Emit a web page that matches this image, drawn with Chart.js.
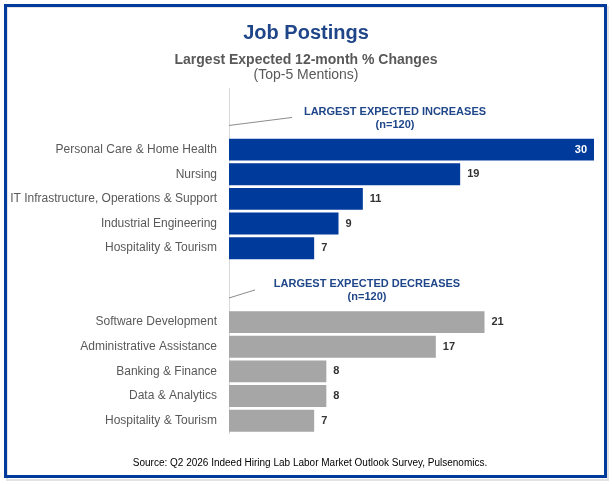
<!DOCTYPE html>
<html>
<head>
<meta charset="utf-8">
<script src="https://cdn.jsdelivr.net/npm/chart.js@4.4.1/dist/chart.umd.min.js"></script>
<style>
    html, body { margin: 0; padding: 0; background: #fff; }
    #wrap { width: 612px; height: 484px; position: relative; }
</style>
</head>
<body>
<div id="wrap"><canvas id="chart" width="612" height="484"></canvas></div>
<script>
// Chart data
const increaseLabels = ['Personal Care & Home Health', 'Nursing', 'IT Infrastructure, Operations & Support', 'Industrial Engineering', 'Hospitality & Tourism'];
const increaseValues = [30, 19, 11, 9, 7];
const decreaseLabels = ['Software Development', 'Administrative Assistance', 'Banking & Finance', 'Data & Analytics', 'Hospitality & Tourism'];
const decreaseValues = [21, 17, 8, 8, 7];

const titleText = 'Job Postings';
const subtitleText = 'Largest Expected 12-month % Changes';
const subtitle2Text = '(Top-5 Mentions)';
const increaseHeader = ['LARGEST EXPECTED INCREASES', '(n=120)'];
const decreaseHeader = ['LARGEST EXPECTED DECREASES', '(n=120)'];
const sourceText = 'Source: Q2 2026 Indeed Hiring Lab Labor Market Outlook Survey, Pulsenomics.';

// two blank rows above each group leave room for the group headers
const blank = ['', ''];
const categories = [...blank, ...increaseLabels, ...blank, ...decreaseLabels];
const incData = [null, null, ...increaseValues, null, null, ...decreaseValues.map(() => null)];
const decData = [null, null, ...increaseValues.map(() => null), null, null, ...decreaseValues];

const FONT = "'Liberation Sans', Arial, sans-serif";
const NAVY = '#1f4689';
const BLUE = '#003a9b';
const GREY = '#a6a6a6';

const decorPlugin = {
    id: 'decor',
    beforeDraw(chart) {
        const ctx = chart.ctx;
        ctx.save();
        ctx.fillStyle = '#fff';
        ctx.fillRect(0, 0, chart.width, chart.height);
        ctx.restore();
    },
    afterDraw(chart) {
        const ctx = chart.ctx;
        const area = chart.chartArea;
        const y = chart.scales.y;
        ctx.save();

        // frame
        ctx.strokeStyle = '#e3e3e3';
        ctx.lineWidth = 2;
        ctx.strokeRect(7, 7, 601, 473);
        ctx.strokeStyle = BLUE;
        ctx.lineWidth = 3;
        ctx.strokeRect(5.5, 5.5, 600, 471);

        // titles
        ctx.textAlign = 'center';
        ctx.textBaseline = 'middle';
        ctx.fillStyle = NAVY;
        ctx.font = 'bold 20px ' + FONT;
        ctx.fillText(titleText, 306, 33);
        ctx.fillStyle = '#595959';
        ctx.font = 'bold 14px ' + FONT;
        ctx.fillText(subtitleText, 306, 60);
        ctx.font = '14px ' + FONT;
        ctx.fillText(subtitle2Text, 306, 75);

        // group headers with leader lines
        const headers = [
            { lines: increaseHeader, row: 1, dx: 166, lineEnd: 63 },
            { lines: decreaseHeader, row: 8, dx: 138, lineEnd: 26 }
        ];
        headers.forEach(h => {
            const cy = y.getPixelForValue(h.row);
            ctx.fillStyle = NAVY;
            ctx.font = 'bold 11px ' + FONT;
            ctx.fillText(h.lines[0], area.left + h.dx, cy - 13);
            ctx.fillText(h.lines[1], area.left + h.dx, cy);
            ctx.strokeStyle = '#8c8c8c';
            ctx.lineWidth = 1;
            ctx.beginPath();
            ctx.moveTo(area.left, cy + 0.5);
            ctx.lineTo(area.left + h.lineEnd, cy - 7.5);
            ctx.stroke();
        });

        // value labels
        ctx.font = 'bold 11px ' + FONT;
        chart.data.datasets.forEach((ds, di) => {
            chart.getDatasetMeta(di).data.forEach((bar, i) => {
                const v = ds.data[i];
                if (v == null) return;
                if (v >= 30) {
                    ctx.fillStyle = '#fff';
                    ctx.textAlign = 'right';
                    ctx.fillText(v, bar.x - 7, bar.y);
                } else {
                    ctx.fillStyle = '#333';
                    ctx.textAlign = 'left';
                    ctx.fillText(v, bar.x + 7, bar.y);
                }
            });
        });

        // source
        ctx.fillStyle = '#000';
        ctx.textAlign = 'center';
        ctx.font = '10px ' + FONT;
        ctx.fillText(sourceText, 310, 463);

        ctx.restore();
    }
};

const ctx = document.getElementById('chart').getContext('2d');
new Chart(ctx, {
    type: 'bar',
    data: {
        labels: categories,
        datasets: [{
            label: 'Increases',
            data: incData,
            backgroundColor: BLUE,
            grouped: false,
            categoryPercentage: 1,
            barPercentage: 0.89
        }, {
            label: 'Decreases',
            data: decData,
            backgroundColor: GREY,
            grouped: false,
            categoryPercentage: 1,
            barPercentage: 0.89
        }]
    },
    options: {
        indexAxis: 'y',
        responsive: false,
        animation: false,
        devicePixelRatio: 1,
        layout: { padding: { top: 88, right: 18, bottom: 51, left: 0 } },
        plugins: {
            legend: { display: false },
            tooltip: { enabled: false },
            title: { display: false }
        },
        scales: {
            x: { display: false, min: 0, max: 30 },
            y: {
                afterFit(scale) { scale.width = 229; },
                grid: { display: false, drawTicks: false },
                border: { display: true, color: '#d9d9d9', width: 1 },
                ticks: {
                    padding: 12,
                    color: '#595959',
                    font: { family: FONT, size: 12 }
                }
            }
        }
    },
    plugins: [decorPlugin]
});
</script>
</body>
</html>
